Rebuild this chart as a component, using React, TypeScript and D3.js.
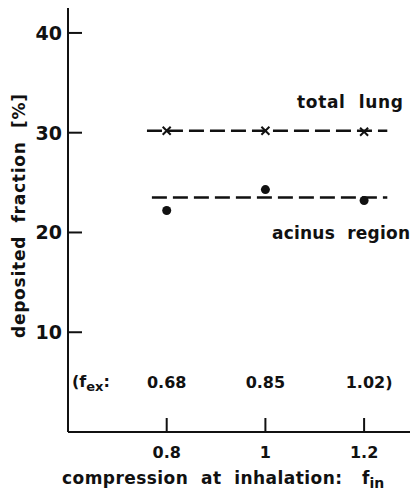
import React from 'react'
import * as d3 from 'd3'

const fin = [0.8, 1.0, 1.2]
const finLabels = ['0.8', '1', '1.2']
const fexLabels = ['0.68', '0.85', '1.02)']
const totalLung = [30.2, 30.2, 30.1]
const acinus = [22.2, 24.3, 23.2]
const meanTotal = 30.2
const meanAcinus = 23.5
const lineSpan = [0.76, 1.247]
const yTicks = [10, 20, 30, 40]

const font = "'DejaVu Sans', sans-serif"

const App = () => {
    const width = 417
    const height = 497
    const x = d3.scaleLinear().domain([0.6, 1.293]).range([68, 410])
    const y = d3.scaleLinear().domain([0, 42.5]).range([432, 8])
    const line = d3.line<number[]>().x(d => x(d[0])).y(d => y(d[1]))

    return (
        <svg width={width} height={height} style={{ position: 'absolute', left: 0, top: 0 }}
            fontFamily={font} fontWeight="bold" fill="#111">
            {/* axes */}
            <line x1={x(0.6)} x2={x(0.6)} y1={y(42.5)} y2={y(0)} stroke="#111" strokeWidth={2} />
            <line x1={x(0.6)} x2={x(1.293)} y1={y(0)} y2={y(0)} stroke="#111" strokeWidth={2} />
            {yTicks.map(t => (
                <g key={t}>
                    <line x1={x(0.6)} x2={x(0.6) + 14} y1={y(t)} y2={y(t)} stroke="#111" strokeWidth={2} />
                    <text x={x(0.6) - 6} y={y(t)} dy="0.36em" textAnchor="end" fontSize={19}>{t}</text>
                </g>
            ))}
            {fin.map((v, i) => (
                <g key={v}>
                    <line x1={x(v)} x2={x(v)} y1={y(0)} y2={y(0) - 14} stroke="#111" strokeWidth={2} />
                    <text x={x(v)} y={458} textAnchor="middle" fontSize={16}>{finLabels[i]}</text>
                    <text x={x(v) + (i === 2 ? 5 : 0)} y={388} textAnchor="middle" fontSize={16}>{fexLabels[i]}</text>
                </g>
            ))}
            <text x={72} y={387} fontSize={16}>(f<tspan fontSize={13} dy={4}>ex</tspan><tspan dy={-4}>:</tspan></text>

            {/* mean lines */}
            <path d={line([[lineSpan[0], meanTotal], [lineSpan[1], meanTotal]]) ?? ''} fill="none"
                stroke="#111" strokeWidth={2.5} strokeDasharray="15,6" />
            <path d={line([[lineSpan[0] + 0.01, meanAcinus], [lineSpan[1], meanAcinus]]) ?? ''} fill="none"
                stroke="#111" strokeWidth={2.5} strokeDasharray="15,6" />

            {/* total lung crosses */}
            {fin.map((v, i) => {
                const cx = x(v), cy = y(totalLung[i])
                return (
                    <path key={'t' + v} d={`M${cx - 4},${cy - 4}L${cx + 4},${cy + 4}M${cx - 4},${cy + 4}L${cx + 4},${cy - 4}`}
                        stroke="#111" strokeWidth={2} fill="none" />
                )
            })}
            {/* acinus dots */}
            {fin.map((v, i) => (
                <circle key={'a' + v} cx={x(v)} cy={y(acinus[i])} r={4.5} fill="#111" />
            ))}

            <text x={297} y={108} fontSize={17} textLength={106}>total&#160; lung</text>
            <text x={272} y={239} fontSize={17} textLength={138}>acinus&#160; region</text>

            <text transform={`translate(25,${216}) rotate(-90)`} textAnchor="middle" fontSize={17} textLength={244}>
                deposited&#160; fraction&#160; [%]
            </text>
            <text x={62} y={484} fontSize={17}>
                <tspan textLength={280}>compression&#160; at&#160; inhalation:</tspan>
                <tspan x={362}>f</tspan><tspan fontSize={14} dy={4}>in</tspan>
            </text>
        </svg>
    )
}

export default App
